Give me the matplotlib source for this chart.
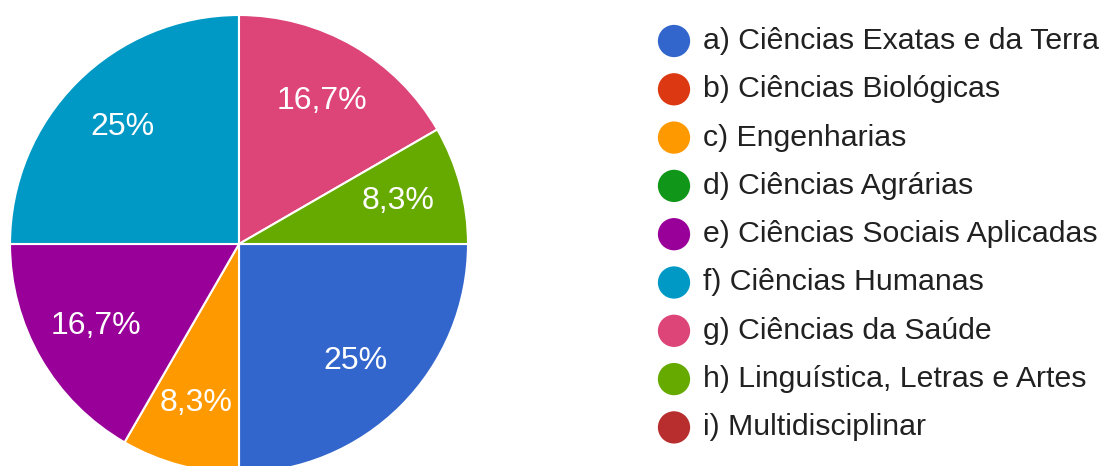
import matplotlib.pyplot as plt

# dados do gráfico (respostas por área)
categorias = [
    'a) Ciências Exatas e da Terra',
    'b) Ciências Biológicas',
    'c) Engenharias',
    'd) Ciências Agrárias',
    'e) Ciências Sociais Aplicadas',
    'f) Ciências Humanas',
    'g) Ciências da Saúde',
    'h) Linguística, Letras e Artes',
    'i) Multidisciplinar',
]
valores = [3, 0, 1, 0, 2, 3, 2, 1, 0]
cores = ['#3366cc', '#dc3912', '#ff9900', '#109618', '#990099',
         '#0099c6', '#dd4477', '#66aa00', '#b82e2e']

plt.rcParams['font.family'] = ['Liberation Sans', 'DejaVu Sans']

W, H = 1107, 466
fig = plt.figure(figsize=(W / 100, H / 100), dpi=100)

# pizza
cx, cy, r = 239, 244, 229
ax = fig.add_axes([(cx - r) / W, (H - cy - r) / H, 2 * r / W, 2 * r / H])
vals = [v for v in valores if v > 0]
cols = [c for v, c in zip(valores, cores) if v > 0]


def fmt_pct(p):
    s = f'{p:.1f}'
    if s.endswith('.0'):
        s = s[:-2]
    return s.replace('.', ',') + '%'


ax.pie(vals, colors=cols, startangle=0, counterclock=False,
       autopct=fmt_pct, pctdistance=0.72, radius=1,
       wedgeprops=dict(edgecolor='white', linewidth=1.5),
       textprops=dict(color='white', fontsize=23))
ax.set_xlim(-1.0, 1.0)
ax.set_ylim(-1.0, 1.0)
ax.set_aspect('equal')
ax.axis('off')

# legenda
ly0, lrow = 41, 48.3
lax = fig.add_axes([0, 0, 1, 1])
lax.set_xlim(0, W)
lax.set_ylim(H, 0)
lax.axis('off')
for i, (nome, cor) in enumerate(zip(categorias, cores)):
    y = ly0 + i * lrow
    lax.scatter([674], [y], s=540, color=cor, edgecolors='none')
    lax.text(703, y, nome, fontsize=21.8, color='#212121', va='center', ha='left')

fig.savefig('out.png', dpi=100)
